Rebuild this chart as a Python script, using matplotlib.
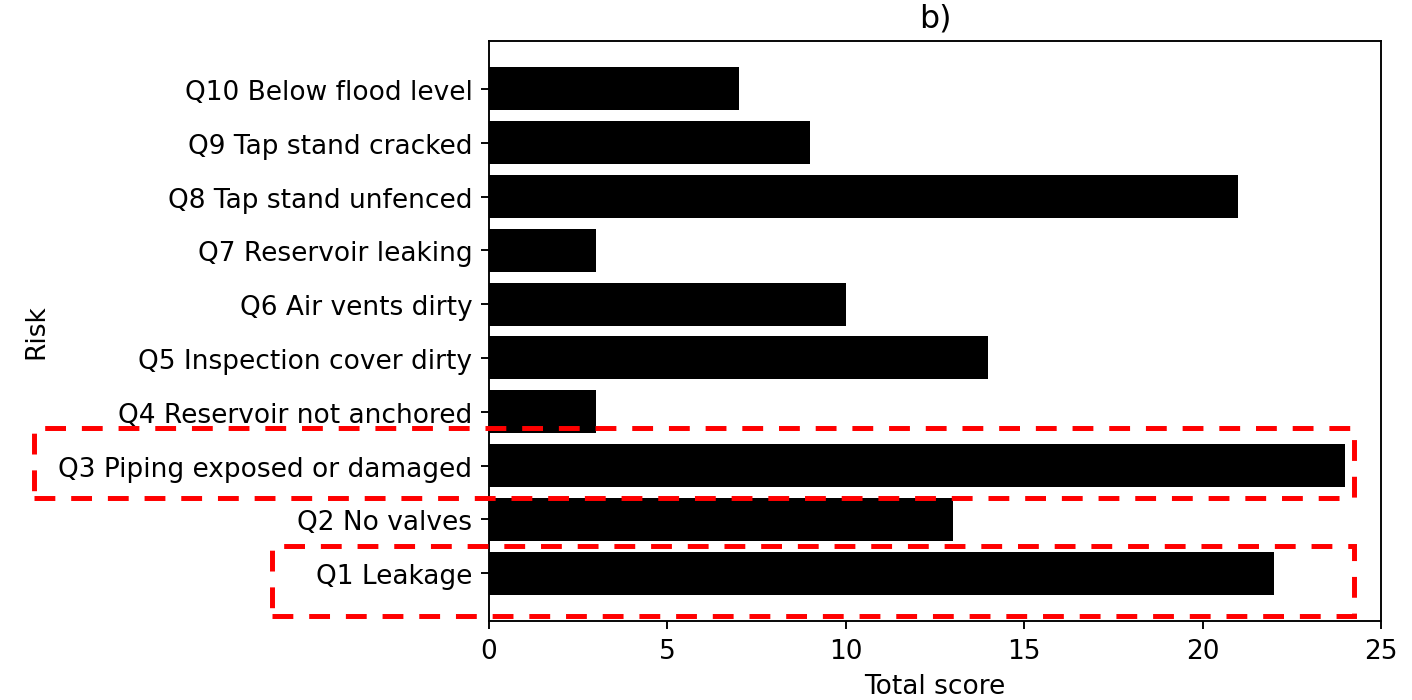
import matplotlib
matplotlib.use("Agg")
import matplotlib.pyplot as plt
from matplotlib.patches import Rectangle

plt.rcParams["font.size"] = 11.2

# risk questions, bottom to top
risks = [
    "Q1 Leakage",
    "Q2 No valves",
    "Q3 Piping exposed or damaged",
    "Q4 Reservoir not anchored",
    "Q5 Inspection cover dirty",
    "Q6 Air vents dirty",
    "Q7 Reservoir leaking",
    "Q8 Tap stand unfenced",
    "Q9 Tap stand cracked",
    "Q10 Below flood level",
]
total_scores = [22, 13, 24, 3, 14, 10, 3, 21, 9, 7]
x_ticks = [0, 5, 10, 15, 20, 25]

# dashed boxes around the highlighted risks (x0, y0, width, height in data units)
highlight_boxes = [
    (-12.75, 1.39, 37.0, 1.31),
    (-6.08, -0.80, 30.32, 1.31),
]

fig = plt.figure(figsize=(1412 / 170, 701 / 170), dpi=170)
ax = fig.add_axes([0.3463, 0.1127, 0.978 - 0.3463, 0.940 - 0.1127])

ax.barh(risks, total_scores, color="black", height=0.8)
ax.set_xticks(x_ticks)
ax.set_xlim(0, 25)
ax.set_xlabel("Total score")
ax.set_ylabel("Risk")
ax.set_title("b)")

for x0, y0, w, h in highlight_boxes:
    box = Rectangle((x0, y0), w, h, fill=False, edgecolor="red",
                    linewidth=2.1, linestyle=(0, (4.2, 3.2)),
                    clip_on=False, zorder=5)
    ax.add_patch(box)

fig.savefig("out.png", dpi=170)
